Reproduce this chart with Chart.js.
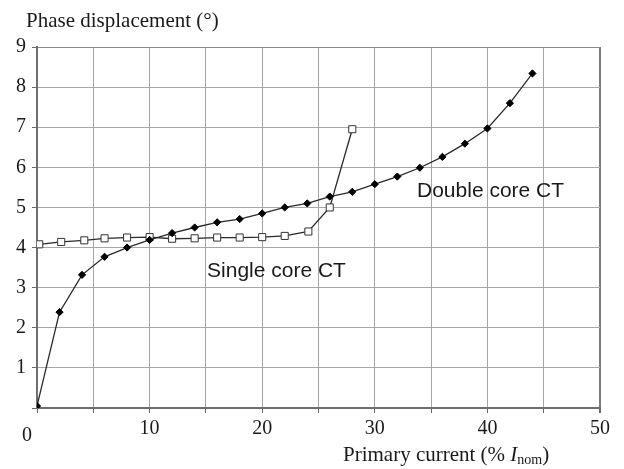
<!DOCTYPE html>
<html>
<head>
<meta charset="utf-8">
<script src="https://cdn.jsdelivr.net/npm/chart.js@4/dist/chart.umd.min.js"></script>
<style>
  html, body { margin: 0; padding: 0; background: #fff; }
  #wrap { width: 624px; height: 469px; position: relative; }
</style>
</head>
<body>
<div id="wrap"><canvas id="c" width="624" height="469"></canvas></div>
<script>
// ---- data ----
const doubleCoreX = [0, 2, 4, 6, 8, 10, 12, 14, 16, 18, 20, 22, 24, 26, 28, 30, 32, 34, 36, 38, 40, 42, 44];
const doubleCoreY = [0.05, 2.39, 3.32, 3.77, 4.0, 4.19, 4.36, 4.5, 4.63, 4.71, 4.85, 5.0, 5.1, 5.27, 5.39, 5.58, 5.77, 5.99, 6.26, 6.59, 6.97, 7.6, 8.34];
const singleCoreX = [0.2, 2.15, 4.2, 6, 8, 10, 12, 14, 16, 18, 20, 22, 24.1, 26, 28];
const singleCoreY = [4.08, 4.14, 4.18, 4.23, 4.25, 4.26, 4.22, 4.23, 4.25, 4.25, 4.26, 4.29, 4.4, 5.0, 6.95];
const seriesNames = ['Double core CT', 'Single core CT'];
const yTitle = 'Phase displacement (°)';
const xTitleParts = ['Primary current (% ', 'I', 'nom', ')'];

const toPoints = (xs, ys) => xs.map((x, i) => ({ x: x, y: ys[i] }));

const SERIF = '"Liberation Serif", "Times New Roman", serif';
const SANS = '"Liberation Sans", Arial, sans-serif';

const labelPlugin = {
  id: 'labels',
  afterDraw(chart) {
    const ctx = chart.ctx;
    const xs = chart.scales.x, ys = chart.scales.y;
    ctx.save();
    ctx.fillStyle = '#1a1a1a';
    ctx.textAlign = 'left';
    ctx.textBaseline = 'alphabetic';
    // series annotations
    ctx.font = '21px ' + SANS;
    ctx.fillText(seriesNames[1], xs.getPixelForValue(15.1), ys.getPixelForValue(3.27));
    ctx.fillText(seriesNames[0], xs.getPixelForValue(33.75), ys.getPixelForValue(5.26));
    // y title
    ctx.font = '21px ' + SERIF;
    ctx.fillText(yTitle, 26, 27);
    // lone zero at the corner
    ctx.font = '20px ' + SERIF;
    ctx.fillText('0', 22, 441);
    // x title with italic I and subscript
    let x = 343, base = 461;
    ctx.font = '21px ' + SERIF;
    ctx.fillText(xTitleParts[0], x, base);
    x += ctx.measureText(xTitleParts[0]).width;
    ctx.font = 'italic 21px ' + SERIF;
    ctx.fillText(xTitleParts[1], x, base);
    x += ctx.measureText(xTitleParts[1]).width;
    ctx.font = '14px ' + SERIF;
    ctx.fillText(xTitleParts[2], x, base + 3);
    x += ctx.measureText(xTitleParts[2]).width;
    ctx.font = '21px ' + SERIF;
    ctx.fillText(xTitleParts[3], x, base);
    ctx.restore();
  }
};

new Chart(document.getElementById('c'), {
  type: 'scatter',
  data: {
    datasets: [
      {
        label: seriesNames[0],
        data: toPoints(doubleCoreX, doubleCoreY),
        showLine: true,
        borderColor: '#2a2a2a',
        borderWidth: 1.3,
        pointStyle: 'rectRot',
        pointRadius: 3.6,
        pointBackgroundColor: '#000',
        pointBorderColor: '#000',
        pointBorderWidth: 1,
        tension: 0
      },
      {
        label: seriesNames[1],
        data: toPoints(singleCoreX, singleCoreY),
        showLine: true,
        borderColor: '#2a2a2a',
        borderWidth: 1.3,
        pointStyle: 'rect',
        pointRadius: 5,
        pointBackgroundColor: '#fff',
        pointBorderColor: '#333',
        pointBorderWidth: 1,
        tension: 0
      }
    ]
  },
  options: {
    responsive: false,
    animation: false,
    layout: { padding: { left: 0, top: 47, right: 24, bottom: 0 } },
    plugins: { legend: { display: false }, tooltip: { enabled: false } },
    scales: {
      x: {
        type: 'linear',
        min: 0, max: 50,
        afterFit(scale) { scale.height = 61; },
        ticks: {
          stepSize: 5,
          autoSkip: false,
          maxRotation: 0,
          padding: 4,
          color: '#1a1a1a',
          font: { family: SERIF, size: 20 },
          callback: (v) => (v % 10 === 0 && v !== 0) ? String(v) : ''
        },
        grid: {
          color: (c) => (c.tick && c.tick.value === 50) ? '#7a7a7a' : '#a6a6a6',
          lineWidth: (c) => (c.tick && c.tick.value === 50) ? 2 : 1,
          tickColor: '#6a6a6a',
          tickLength: 5
        },
        border: { color: '#6e6e6e', width: 2 }
      },
      y: {
        type: 'linear',
        min: 0, max: 9,
        afterFit(scale) { scale.width = 37; },
        ticks: {
          stepSize: 1,
          padding: 6,
          color: '#1a1a1a',
          font: { family: SERIF, size: 20 },
          callback: (v) => v === 0 ? '' : String(v)
        },
        grid: {
          color: (c) => (c.tick && c.tick.value === 9) ? '#8c8c8c' : '#a6a6a6',
          lineWidth: 1,
          tickColor: '#6a6a6a',
          tickLength: 5
        },
        border: { color: '#6e6e6e', width: 2 }
      }
    }
  },
  plugins: [labelPlugin]
});
</script>
</body>
</html>
